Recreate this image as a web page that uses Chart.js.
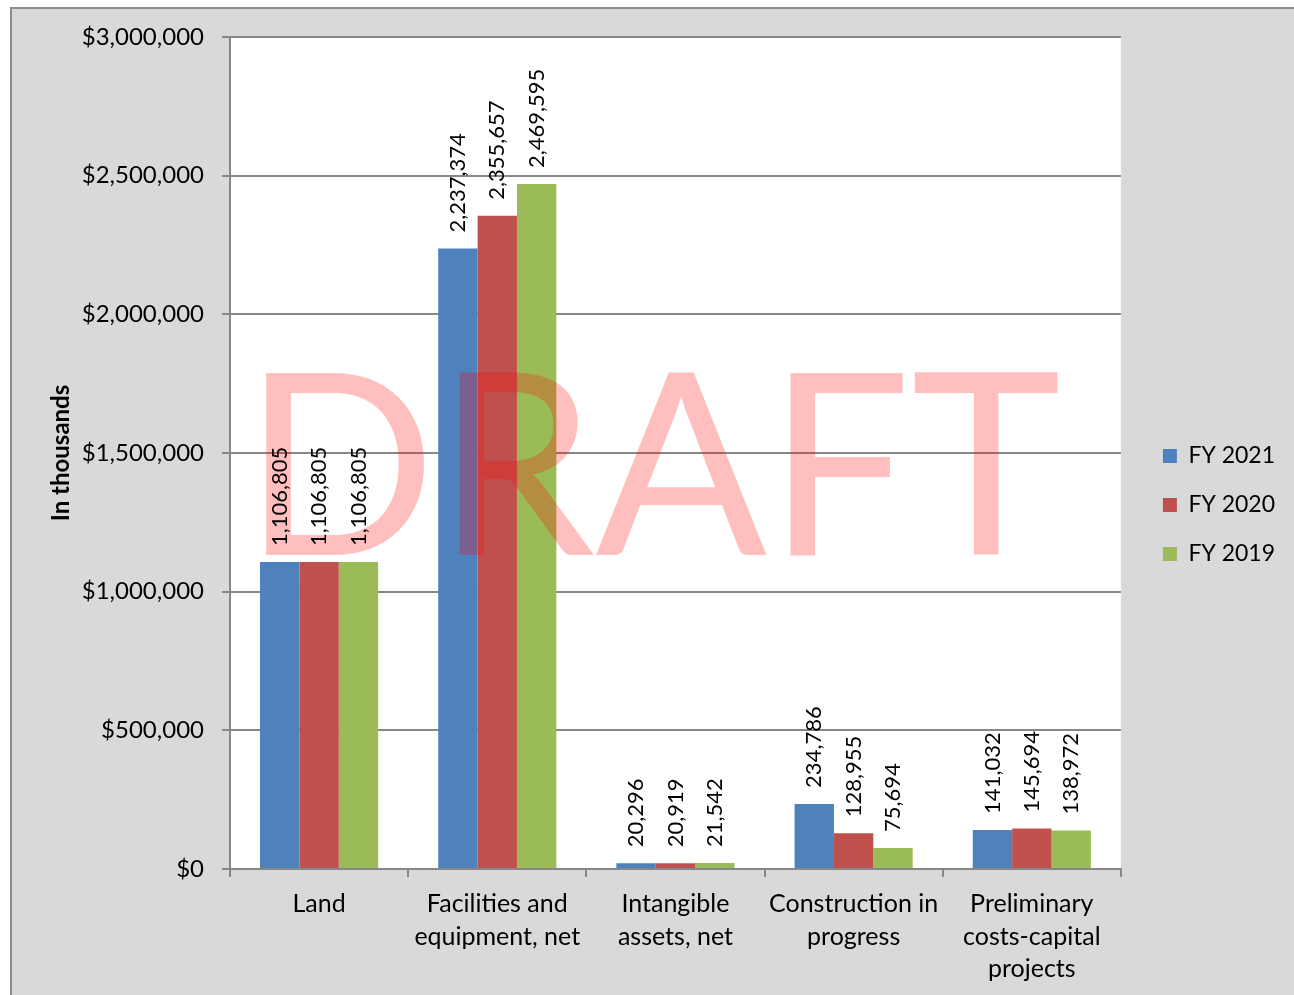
<!DOCTYPE html>
<html>
<head>
<meta charset="utf-8">
<script src="https://cdn.jsdelivr.net/npm/chart.js@4"></script>
<style>
  body { margin: 0; background: #ffffff; }
  #wrap { position: absolute; left: 0; top: 0; width: 1294px; height: 995px; }
</style>
</head>
<body>
<div id="wrap"><canvas id="myChart" width="1294" height="995"></canvas></div>
<script>
// chart values (in thousands)
const categories = [
    'Land',
    ['Facilities and', 'equipment, net'],
    ['Intangible', 'assets, net'],
    ['Construction in', 'progress'],
    ['Preliminary', 'costs-capital', 'projects']
];
const seriesNames = ['FY 2021', 'FY 2020', 'FY 2019'];
const fy2021 = [1106805, 2237374, 20296, 234786, 141032];
const fy2020 = [1106805, 2355657, 20919, 128955, 145694];
const fy2019 = [1106805, 2469595, 21542, 75694, 138972];
const yTicks = [0, 500000, 1000000, 1500000, 2000000, 2500000, 3000000];

const colors = ['#4f81bd', '#c0504d', '#9bbb59'];
const gridGray = '#878787';
const fontFamily = 'Lato, "Open Sans", sans-serif';

// gray frame behind everything, white plot area
const framePlugin = {
    id: 'frame',
    beforeDraw: (chart) => {
        const c = chart.ctx;
        const a = chart.chartArea;
        c.save();
        c.fillStyle = '#ffffff';
        c.fillRect(0, 0, chart.width, chart.height);
        c.fillStyle = '#d9d9d9';
        c.fillRect(10, 7, chart.width - 10, chart.height - 7);
        c.strokeStyle = '#8c8c8c';
        c.lineWidth = 2;
        c.beginPath();
        c.moveTo(11, chart.height);
        c.lineTo(11, 8);
        c.lineTo(chart.width, 8);
        c.stroke();
        c.fillStyle = '#ffffff';
        c.fillRect(a.left, a.top, a.right - a.left, a.bottom - a.top);
        c.restore();
    }
};

// move the legend a bit away from the plot
const legendShift = {
    id: 'legendShift',
    afterLayout: (chart) => {
        const lg = chart.legend;
        lg.left = chart.chartArea.right + 16;
        lg.right = lg.left + lg.width;
        lg.top -= 11;
        lg.bottom -= 11;
    }
};

// watermark and value labels on top of the bars
const labelPlugin = {
    id: 'valueLabels',
    afterDatasetsDraw: (chart) => {
        const c = chart.ctx;
        c.save();
        c.font = '254px ' + fontFamily;
        c.fillStyle = 'rgba(255, 0, 0, 0.25)';
        c.textAlign = 'center';
        c.textBaseline = 'alphabetic';
        c.fillText('DRAFT', 652, 555);

        c.font = '22px ' + fontFamily;
        c.fillStyle = '#000000';
        c.textAlign = 'left';
        c.textBaseline = 'middle';
        chart.data.datasets.forEach((ds, i) => {
            const meta = chart.getDatasetMeta(i);
            meta.data.forEach((bar, j) => {
                c.save();
                c.translate(bar.x, bar.y - 16);
                c.rotate(-Math.PI / 2);
                c.fillText(ds.data[j].toLocaleString('en-US'), 0, 0);
                c.restore();
            });
        });
        c.restore();
    }
};

const ctx = document.getElementById('myChart');
const myChart = new Chart(ctx, {
    type: 'bar',
    data: {
        labels: categories,
        datasets: [
            { label: seriesNames[0], data: fy2021, backgroundColor: colors[0] },
            { label: seriesNames[1], data: fy2020, backgroundColor: colors[1] },
            { label: seriesNames[2], data: fy2019, backgroundColor: colors[2] }
        ]
    },
    options: {
        responsive: false,
        animation: false,
        layout: { padding: { top: 37, left: 0, right: 25, bottom: 0 } },
        datasets: {
            bar: { categoryPercentage: 0.663, barPercentage: 1.0 }
        },
        plugins: {
            legend: {
                position: 'right',
                labels: {
                    boxWidth: 14,
                    boxHeight: 14,
                    padding: 26,
                    color: '#000000',
                    font: { family: fontFamily, size: 23 }
                }
            },
            tooltip: { enabled: false }
        },
        scales: {
            x: {
                grid: {
                    offset: true,
                    drawOnChartArea: false,
                    drawTicks: true,
                    tickLength: 8,
                    color: gridGray,
                    lineWidth: 2
                },
                border: { display: true, color: gridGray, width: 2 },
                ticks: {
                    color: '#000000',
                    padding: 11,
                    maxRotation: 0,
                    autoSkip: false,
                    font: { family: fontFamily, size: 25, lineHeight: 1.3 }
                },
                afterFit: (s) => { s.height = 126; }
            },
            y: {
                min: 0,
                max: 3000000,
                afterBuildTicks: (s) => { s.ticks = yTicks.map(v => ({ value: v })); },
                grid: {
                    color: gridGray,
                    lineWidth: 2,
                    drawTicks: true,
                    tickLength: 8
                },
                border: { display: true, color: gridGray, width: 2 },
                ticks: {
                    color: '#000000',
                    padding: 18,
                    font: { family: fontFamily, size: 24 },
                    callback: (v) => '$' + Number(v).toLocaleString('en-US')
                },
                title: {
                    display: true,
                    text: 'In thousands',
                    color: '#000000',
                    padding: { top: 47, bottom: 0 },
                    font: { family: fontFamily, size: 24, weight: 'bold' }
                },
                afterFit: (s) => { s.width = 230; }
            }
        }
    },
    plugins: [framePlugin, legendShift, labelPlugin]
});
</script>
</body>
</html>
